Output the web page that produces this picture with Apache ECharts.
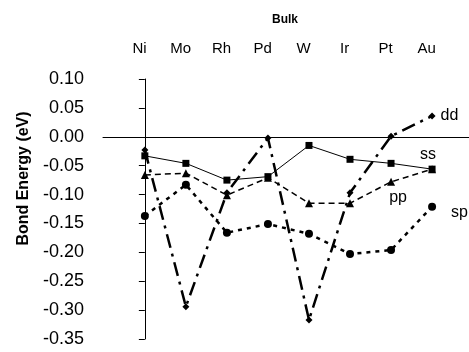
<!DOCTYPE html>
<html>
<head>
<meta charset="utf-8">
<script src="https://cdn.jsdelivr.net/npm/echarts@6/dist/echarts.min.js"></script>
<style>html,body{margin:0;padding:0;background:#fff}#c{width:469px;height:352px}</style>
</head>
<body>
<div id="c"></div>
<script>
const categories = ['Ni', 'Mo', 'Rh', 'Pd', 'W', 'Ir', 'Pt', 'Au'];
const ssValues = [-0.033, -0.046, -0.075, -0.069, -0.015, -0.039, -0.046, -0.056];
const ppValues = [-0.066, -0.063, -0.101, -0.071, -0.115, -0.115, -0.078, -0.056];
const spValues = [-0.137, -0.083, -0.166, -0.151, -0.168, -0.203, -0.196, -0.121];
const ddValues = [-0.023, -0.294, -0.097, -0.002, -0.317, -0.097, 0.001, 0.036];
const yTicks = { min: -0.35, max: 0.10, step: 0.05 };
const FONT = 'Liberation Sans, Arial, Helvetica, sans-serif';

function pts(vals) { return vals.map((v, i) => [i, v]); }
function withLabel(vals, idx, text, labelStyle) {
  const d = pts(vals);
  d[idx] = { value: d[idx], label: Object.assign({ show: true, formatter: text, color: '#000', fontFamily: FONT, fontSize: 16 }, labelStyle) };
  return d;
}

const chart = echarts.init(document.getElementById('c'), null, { renderer: 'canvas' });
chart.setOption({
  animation: false,
  backgroundColor: '#fff',
  title: {
    text: 'Bulk', left: 267, top: 9,
    textStyle: { fontFamily: FONT, fontSize: 12, fontWeight: 'bold', color: '#000' }
  },
  grid: { left: 103, right: 0, top: 79, bottom: 13, containLabel: false },
  xAxis: [
    {
      type: 'value', min: -1.02, max: 7.9, position: 'bottom',
      axisLine: { show: true, onZero: true, lineStyle: { color: '#000', width: 1 } },
      axisTick: { show: false }, axisLabel: { show: false }, splitLine: { show: false }
    },
    {
      type: 'value', min: -0.89, max: 8.03, position: 'top',
      axisLine: { show: false }, axisTick: { show: false }, splitLine: { show: false },
      axisLabel: {
        show: true, margin: 23, color: '#000', fontFamily: FONT, fontSize: 15,
        customValues: categories.map((c, i) => i),
        formatter: v => categories[Math.round(v)] || ''
      }
    }
  ],
  yAxis: {
    type: 'value', min: yTicks.min, max: yTicks.max, interval: yTicks.step,
    name: 'Bond Energy (eV)', nameLocation: 'middle', nameGap: 71,
    nameTextStyle: { fontFamily: FONT, fontSize: 16, fontWeight: 'bold', color: '#000', padding: [0, 0, 0, 61] },
    axisLine: { show: true, lineStyle: { color: '#000', width: 1 } },
    axisTick: { show: true, inside: false, length: 6, lineStyle: { color: '#000' } },
    axisLabel: { color: '#000', fontFamily: FONT, fontSize: 18, margin: 19, formatter: v => v.toFixed(2) },
    splitLine: { show: false }
  },
  series: [
    {
      name: 'ss', type: 'line', data: withLabel(ssValues, 7, 'ss', { position: 'top', distance: 3, offset: [-4, 0] }),
      symbol: 'rect', symbolSize: 7,
      lineStyle: { color: '#000', width: 1, type: 'solid' },
      itemStyle: { color: '#000' }
    },
    {
      name: 'pp', type: 'line', data: withLabel(ppValues, 6, 'pp', { position: 'bottom', distance: 4, offset: [7, 0] }),
      symbol: 'triangle', symbolSize: 8,
      lineStyle: { color: '#000', width: 1.5, type: [6, 4] },
      itemStyle: { color: '#000' }
    },
    {
      name: 'sp', type: 'line', data: withLabel(spValues, 7, 'sp', { position: 'right', distance: 5, offset: [10, 6] }),
      symbol: 'circle', symbolSize: 8,
      lineStyle: { color: '#000', width: 2.5, type: [4, 5] },
      itemStyle: { color: '#000' }
    },
    {
      name: 'dd', type: 'line', data: withLabel(ddValues, 7, 'dd', { position: 'right', distance: 5 }),
      symbol: 'diamond', symbolSize: 7,
      lineStyle: { color: '#000', width: 2.5, type: [14, 6, 3, 6] },
      itemStyle: { color: '#000' }
    }
  ]
});
</script>
</body>
</html>
